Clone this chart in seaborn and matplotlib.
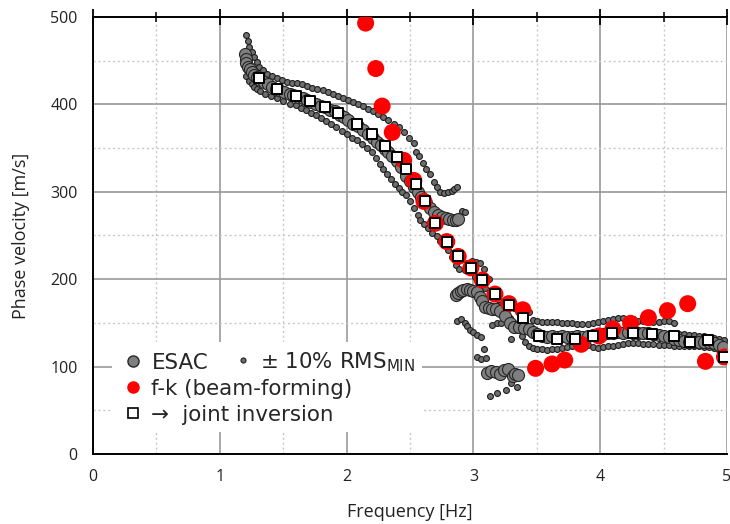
import matplotlib
matplotlib.use("Agg")
import matplotlib.pyplot as plt
from matplotlib.lines import Line2D
from matplotlib.patches import Rectangle
from matplotlib.ticker import MultipleLocator
import seaborn as sns
import pandas as pd

# ---------------- data ----------------
esac_f = [1.20, 1.205, 1.21, 1.22, 1.235, 1.25, 1.27, 1.29, 1.32, 1.35, 1.38, 1.41, 1.44, 1.47,
          1.51, 1.55, 1.58, 1.62, 1.66, 1.69, 1.72, 1.76, 1.80, 1.83, 1.87, 1.91, 1.95, 1.98,
          2.01, 2.05, 2.09, 2.13, 2.17, 2.21, 2.24, 2.27, 2.30, 2.33, 2.36, 2.40, 2.43, 2.47,
          2.50, 2.53, 2.56, 2.59, 2.63, 2.66, 2.69, 2.72, 2.75, 2.78, 2.81, 2.84, 2.86, 2.88,
          2.86, 2.88, 2.90, 2.92, 2.95, 2.97, 3.00, 3.03, 3.05, 3.07, 3.09, 3.12, 3.15, 3.18,
          3.21, 3.25, 3.29, 3.32, 3.36, 3.40, 3.44, 3.47, 3.50, 3.54, 3.58, 3.62, 3.66, 3.70,
          3.74, 3.78, 3.82, 3.86, 3.90, 3.94, 3.98, 4.02, 4.06, 4.10, 4.14, 4.18, 4.22, 4.26,
          4.30, 4.34, 4.38, 4.42, 4.46, 4.50, 4.54, 4.58, 4.62, 4.66, 4.70, 4.74, 4.78, 4.82,
          4.86, 4.90, 4.94, 4.97,
          3.11, 3.14, 3.18, 3.21, 3.24, 3.27, 3.31, 3.33, 3.35]
esac_v = [458, 452, 447, 443, 440, 437, 434, 431, 428, 426, 423, 420, 418, 416,
          414, 412, 411, 409, 407, 405, 403, 401, 398, 397, 394, 392, 388, 385,
          382, 378, 375, 371, 366, 361, 357, 353, 349, 345, 341, 335, 328, 318,
          312, 306, 300, 294, 287, 282, 277, 274, 271, 270, 269, 268, 268, 269,
          182, 184, 187, 188, 189, 188, 187, 185, 180, 175, 168, 167, 166, 166,
          164, 158, 150, 145, 145, 144, 143, 140, 137, 135, 134, 135, 134, 135,
          134, 134, 135, 134, 135, 136, 136, 137, 138, 139, 140, 139, 140, 139,
          139, 138, 138, 137, 136, 135, 134, 132, 130, 129, 128, 128, 128, 128,
          128, 127, 125, 122,
          93, 95, 94, 91, 96, 97, 89, 92, 90]

upper_f = [1.21, 1.22, 1.23, 1.25, 1.27, 1.29, 1.31, 1.34, 1.37, 1.41, 1.45, 1.49, 1.53, 1.57,
           1.61, 1.65, 1.69, 1.73, 1.77, 1.81, 1.85, 1.89, 1.93, 1.97, 2.01, 2.05, 2.09, 2.13,
           2.17, 2.21, 2.25, 2.29, 2.33, 2.37, 2.41, 2.45, 2.49, 2.53, 2.55, 2.57, 2.60, 2.63,
           2.66, 2.69, 2.71, 2.74, 2.77, 2.80, 2.83, 2.85, 2.87, 2.91, 2.93,
           2.95, 2.99, 3.02, 3.05, 3.08, 3.12, 3.16, 3.20, 3.24, 3.28, 3.32, 3.36, 3.40, 3.44,
           3.47, 3.50, 3.54, 3.58, 3.62, 3.66, 3.70, 3.74, 3.78, 3.82, 3.86, 3.90, 3.94, 3.98,
           4.02, 4.06, 4.10, 4.14, 4.18, 4.22, 4.26, 4.30, 4.34, 4.38, 4.42, 4.46, 4.50, 4.54,
           4.58, 4.62, 4.66, 4.70, 4.74, 4.78, 4.82, 4.86, 4.90, 4.94, 4.98]
upper_v = [479, 472, 466, 460, 454, 448, 443, 439, 435, 432, 430, 428, 426, 425,
           424, 423, 421, 419, 418, 416, 414, 412, 410, 407, 405, 403, 400, 398,
           395, 392, 389, 385, 382, 378, 374, 368, 362, 356, 346, 341, 333, 326,
           320, 311, 305, 300, 299, 300, 301, 303, 306, 278, 277,
           218, 221, 220, 219, 212, 200, 185, 176, 170, 168, 167, 168, 165, 162,
           153, 152, 151, 151, 151, 151, 150, 150, 150, 149, 149, 149, 150, 151,
           152, 153, 155, 156, 156, 155, 154, 152, 152, 151, 151, 151, 152, 152,
           150, 137, 137, 136, 136, 135, 135, 134, 133, 132, 130]

lower_f = [1.21, 1.23, 1.25, 1.27, 1.29, 1.32, 1.36, 1.40, 1.45, 1.50, 1.55, 1.60, 1.64, 1.68,
           1.72, 1.76, 1.80, 1.84, 1.88, 1.92, 1.96, 2.00, 2.04, 2.08, 2.12, 2.16, 2.20, 2.23,
           2.26, 2.29, 2.32, 2.35, 2.38, 2.41, 2.44, 2.47, 2.50, 2.53, 2.56, 2.58, 2.61, 2.64,
           2.67, 2.71, 2.74, 2.77, 2.80, 2.83, 2.86, 2.89, 2.93, 2.97, 3.01, 3.05, 3.09, 3.13,
           3.17, 3.21, 3.25, 3.29, 3.32, 3.35, 3.38, 3.41, 3.44, 3.47, 3.50, 3.54, 3.58, 3.62,
           3.66, 3.70, 3.74, 3.78, 3.82, 3.86, 3.90, 3.94, 3.98, 4.02, 4.06, 4.10, 4.14, 4.18,
           4.22, 4.26, 4.30, 4.34, 4.38, 4.42, 4.46, 4.50, 4.54, 4.58, 4.62, 4.66, 4.70, 4.74,
           4.78, 4.82, 4.86, 4.90, 4.94, 4.96, 4.98]
lower_v = [432, 427, 423, 420, 418, 415, 412, 410, 407, 404, 401, 399, 396, 393,
           390, 388, 384, 381, 378, 374, 370, 366, 362, 359, 355, 350, 345, 339,
           332, 326, 320, 315, 309, 304, 300, 296, 289, 282, 274, 268, 263, 258,
           253, 249, 244, 240, 233, 225, 216, 212, 210, 208, 203, 196, 190, 184,
           178, 171, 163, 156, 150, 142, 135, 128, 123, 121, 120, 120, 119, 120,
           120, 121, 122, 124, 126, 127, 125, 122, 121, 122, 123, 124, 125, 126,
           127, 127, 127, 126, 126, 126, 125, 125, 125, 124, 124, 123, 123, 123,
           123, 122, 122, 121, 119, 106, 106]

scatter_f = [2.87, 2.90, 2.93, 2.95, 2.97, 3.00, 3.03, 3.06, 3.08, 3.03, 3.06, 3.10,
             3.15, 3.19, 3.22, 3.30, 3.13, 3.19, 3.26, 3.34, 3.30]
scatter_v = [152, 155, 150, 146, 142, 140, 136, 134, 120, 111, 109, 110,
             148, 150, 150, 132, 66, 70, 73, 77, 81]

fk_f = [2.15, 2.23, 2.28, 2.36, 2.45, 2.53, 2.61, 2.70, 2.79, 2.88, 2.98, 3.07, 3.17, 3.28,
        3.39, 3.49, 3.62, 3.72, 3.85, 3.99, 4.10, 4.24, 4.38, 4.53, 4.69, 4.83, 4.98]
fk_v = [493, 441, 398, 368, 336, 313, 289, 264, 243, 226, 213, 199, 183, 172,
        165, 98, 103, 107.5, 125.5, 135, 143, 149.5, 156, 164, 172, 106, 111]

joint_f = [1.31, 1.45, 1.60, 1.71, 1.83, 1.93, 2.08, 2.20, 2.30, 2.40, 2.47, 2.55, 2.62, 2.70,
           2.79, 2.88, 2.98, 3.07, 3.17, 3.28, 3.39, 3.52, 3.66, 3.80, 3.94, 4.09, 4.26, 4.41,
           4.58, 4.71, 4.85, 4.98]
joint_v = [430.6, 418, 410, 404, 397, 390, 377, 366, 352, 340, 326, 308.6, 289, 264,
           243, 226, 213, 199, 183, 170, 156, 135, 131, 131.6, 134.6, 138, 139, 137,
           134.6, 128.5, 130, 111]

# ---------------- figure ----------------
sns.set_style("white")
plt.rcParams['font.family'] = ['DejaVu Sans']

fig, ax = plt.subplots(figsize=(7.3, 5.24), dpi=100)
fig.subplots_adjust(left=0.1274, right=0.9959, bottom=0.1336, top=0.9676)

band_df = pd.DataFrame({"f": upper_f + lower_f + scatter_f,
                        "v": upper_v + lower_v + scatter_v})
esac_df = pd.DataFrame({"f": esac_f, "v": esac_v})
fk_df = pd.DataFrame({"f": fk_f, "v": fk_v})
joint_df = pd.DataFrame({"f": joint_f, "v": joint_v})

sns.scatterplot(data=band_df, x="f", y="v", ax=ax, s=18, color="#6e6e6e",
                edgecolor="#1e1e1e", linewidth=0.8, zorder=3, legend=False)
sns.scatterplot(data=esac_df, x="f", y="v", ax=ax, s=75, color="#7f7f7f",
                edgecolor="#262626", linewidth=0.8, zorder=4, legend=False)
sns.scatterplot(data=fk_df, x="f", y="v", ax=ax, s=150, color="#ff0000",
                edgecolor="none", linewidth=0, zorder=5, legend=False)
sns.scatterplot(data=joint_df, x="f", y="v", ax=ax, s=60, marker="s", color="white",
                edgecolor="black", linewidth=1.4, zorder=6, legend=False)

ax.set_xlim(0, 5)
ax.set_ylim(0, 500)
ax.xaxis.set_major_locator(MultipleLocator(1))
ax.xaxis.set_minor_locator(MultipleLocator(0.5))
ax.yaxis.set_major_locator(MultipleLocator(100))
ax.yaxis.set_minor_locator(MultipleLocator(50))

ax.set_axisbelow(True)
ax.grid(which="major", color="#9a9a9a", linewidth=1.2, linestyle="-")
ax.grid(which="minor", color="#c8c8c8", linewidth=1.0, linestyle=(0, (1.5, 2)))

for side in ["left", "bottom", "top"]:
    ax.spines[side].set_color("black")
    ax.spines[side].set_linewidth(1.4)
ax.spines["right"].set_visible(False)

ax.tick_params(which="major", direction="inout", length=12, width=1.3, top=True,
               right=False, color="black", pad=5)
ax.tick_params(which="minor", direction="inout", length=7, width=1.1, top=True,
               right=False, color="black")
for lab in ax.get_xticklabels() + ax.get_yticklabels():
    lab.set_fontfamily("Open Sans")
    lab.set_fontsize(11.5)
    lab.set_color("#222222")

ax.set_xlabel("Frequency [Hz]", fontfamily="Open Sans", fontsize=13, labelpad=13,
              color="#222222")
ax.set_ylabel("Phase velocity [m/s]", fontfamily="Open Sans", fontsize=13, labelpad=15,
              color="#222222")

# white legend background
ax.add_patch(Rectangle((0.030, 0.050), 0.489, 0.206, transform=ax.transAxes,
                       facecolor="white", edgecolor="none", zorder=2))

h_esac = Line2D([], [], linestyle="none", marker="o", markersize=8,
                markerfacecolor="#7f7f7f", markeredgecolor="#262626", markeredgewidth=1)
h_fk = Line2D([], [], linestyle="none", marker="o", markersize=8,
              markerfacecolor="#ff0000", markeredgecolor="#ff0000")
h_joint = Line2D([], [], linestyle="none", marker="s", markersize=6.5,
                 markerfacecolor="white", markeredgecolor="black", markeredgewidth=1.2)
h_band = Line2D([], [], linestyle="none", marker="o", markersize=3.6,
                markerfacecolor="#6e6e6e", markeredgecolor="#1e1e1e", markeredgewidth=0.8)

leg1 = ax.legend([h_esac, h_fk, h_joint],
                 ["ESAC", "f-k (beam-forming)", "\u2192  joint inversion"],
                 loc="upper left", bbox_to_anchor=(0.046, 0.232), frameon=False,
                 borderpad=0, borderaxespad=0, handlelength=1.0, handletextpad=0.37,
                 labelspacing=0.28, prop={"family": "DejaVu Sans", "size": 15.4})
leg1.set_zorder(7)
ax.add_artist(leg1)
leg2 = ax.legend([h_band], ["\u00b1 10% RMS$_{\\mathrm{MIN}}$"],
                 loc="upper left", bbox_to_anchor=(0.2265, 0.238), frameon=False,
                 borderpad=0, borderaxespad=0, handlelength=0.6, handletextpad=0.5,
                 prop={"family": "DejaVu Sans", "size": 15.4})
leg2.set_zorder(7)

fig.savefig("out.png", dpi=100)
